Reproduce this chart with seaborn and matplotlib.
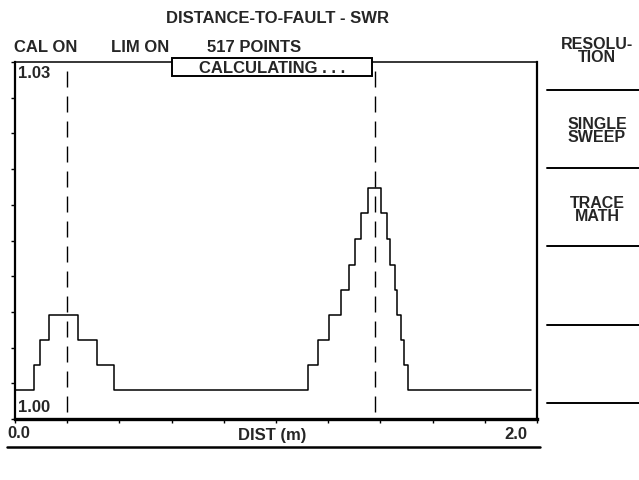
import pandas as pd
import matplotlib
matplotlib.use('Agg')
import matplotlib.pyplot as plt
from matplotlib.patches import Rectangle
from matplotlib.lines import Line2D
import seaborn as sns

# trace: step edges (m) and SWR level held from each edge
dist = [0.00, 0.073, 0.096, 0.130, 0.241, 0.314, 0.379, 1.123, 1.161, 1.203,
        1.249, 1.280, 1.303, 1.326, 1.352, 1.402, 1.425, 1.437, 1.456, 1.464,
        1.479, 1.490, 1.506, 1.977]
swr = [1.0024, 1.0045, 1.0066, 1.0087, 1.0066, 1.0045, 1.0024, 1.0045, 1.0066, 1.0087,
       1.0108, 1.0129, 1.0151, 1.0173, 1.0194, 1.0173, 1.0151, 1.0129, 1.0108, 1.0087,
       1.0066, 1.0045, 1.0024, 1.0024]
markers = [0.20, 1.38]
x_ticks = [0.0, 0.2, 0.4, 0.6, 0.8, 1.0, 1.2, 1.4, 1.6, 1.8, 2.0]
y_ticks = [1.000, 1.003, 1.006, 1.009, 1.012, 1.015, 1.018, 1.021, 1.024, 1.027, 1.030]
menu = ['RESOLU-\nTION', 'SINGLE\nSWEEP', 'TRACE\nMATH', '', '']

df = pd.DataFrame({'dist': dist, 'swr': swr})

sns.set_style('white')
plt.rcParams['font.family'] = ['Liberation Sans', 'DejaVu Sans']

W, H = 639, 480
fig = plt.figure(figsize=(W / 100, H / 100), dpi=100)
ax = fig.add_axes([15 / W, 1 - 419 / H, 522 / W, 357 / H])

sns.lineplot(data=df, x='dist', y='swr', drawstyle='steps-post', color='black',
             linewidth=1.1, ax=ax)
for m in markers:
    ax.axvline(m, ymin=0.02, ymax=1, color='black', linewidth=1.0,
               linestyle=(0, (11.5, 6.5)))

ax.set_xlim(0, 2.0)
ax.set_ylim(1.00, 1.03)
ax.set_xticks(x_ticks)
ax.set_yticks(y_ticks)
ax.set_xticklabels([])
ax.set_yticklabels([])
ax.tick_params(axis='both', direction='out', length=3, width=1, color='black',
               bottom=True, left=True)
ax.set_xlabel('')
ax.set_ylabel('')
for side, lw in [('left', 1.6), ('bottom', 2.4), ('right', 1.6), ('top', 1.1)]:
    ax.spines[side].set_visible(True)
    ax.spines[side].set_color('black')
    ax.spines[side].set_linewidth(lw)


def px(x, y):
    return x / W, 1 - y / H


kw = dict(fontsize=12, fontweight='bold', va='center_baseline')
fig.text(*px(18, 72), '1.03', ha='left', **kw)
fig.text(*px(18, 406), '1.00', ha='left', **kw)
fig.text(*px(277, 17), 'DISTANCE-TO-FAULT - SWR', ha='center', **kw)
fig.text(*px(14, 46), 'CAL ON', ha='left', **kw)
fig.text(*px(111, 46), 'LIM ON', ha='left', **kw)
fig.text(*px(207, 46), '517 POINTS', ha='left', **kw)
fig.text(*px(7, 432), '0.0', ha='left', **kw)
fig.text(*px(272, 434), 'DIST (m)', ha='center', **kw)
fig.text(*px(516, 433), '2.0', ha='center', **kw)

# status box drawn over the top of the frame
fig.patches.append(Rectangle(px(172, 76), 200 / W, 18 / H, transform=fig.transFigure,
                             facecolor='white', edgecolor='black', linewidth=1.4,
                             zorder=5))
fig.text(*px(272, 67), 'CALCULATING . . .', ha='center', zorder=6, **kw)

fig.lines.append(Line2D([7 / W, 540 / W], [1 - 447 / H] * 2, transform=fig.transFigure,
                        color='black', linewidth=1.8))

# soft-key menu on the right
menu_y = [51, 131, 210, 288, 366]
for label, y in zip(menu, menu_y):
    fig.text(*px(597, y), label, ha='center', va='center', fontsize=11.5,
             fontweight='bold', linespacing=0.9)
for y in [90, 168, 246, 325, 403]:
    fig.lines.append(Line2D([547 / W, 1.0], [1 - y / H] * 2, transform=fig.transFigure,
                            color='black', linewidth=1.4))

fig.savefig('out.png', dpi=100)
